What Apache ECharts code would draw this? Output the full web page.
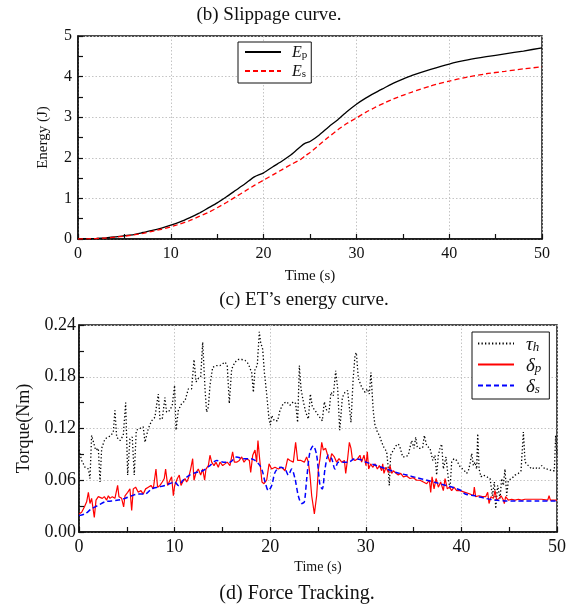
<!DOCTYPE html>
<html><head><meta charset="utf-8">
<script src="https://cdn.jsdelivr.net/npm/echarts@6/dist/echarts.min.js"></script>
<style>html,body{margin:0;padding:0;background:#fff}#c{width:574px;height:612px}</style>
</head><body><div id="c"></div>
<script>
// ---- (c) ET's energy curve ----
const energyTime = [0,1,2,3,4,5,6,7,8,9,10,11,12,13,14,15,16,17,18,19,20,21,22,23,24,24.5,25,26,27,28,29,30,31,32,33,34,35,36,38,40,42,44,46,48,50];
const energyEp = [0,0.005,0.015,0.03,0.05,0.08,0.11,0.16,0.21,0.27,0.34,0.42,0.52,0.63,0.76,0.89,1.04,1.2,1.36,1.53,1.63,1.78,1.92,2.08,2.28,2.36,2.40,2.56,2.76,2.94,3.14,3.32,3.47,3.6,3.72,3.84,3.94,4.03,4.18,4.31,4.41,4.49,4.56,4.63,4.71];
const energyEs = [0,0.004,0.012,0.025,0.045,0.07,0.1,0.14,0.19,0.24,0.3,0.37,0.45,0.55,0.65,0.77,0.9,1.04,1.18,1.32,1.45,1.58,1.71,1.84,1.96,2.05,2.13,2.32,2.51,2.69,2.85,2.98,3.12,3.24,3.35,3.45,3.54,3.62,3.77,3.89,3.99,4.07,4.13,4.19,4.24];
const energyYTicks = [0,1,2,3,4,5];

// ---- (d) Force tracking ----
const tauT = [0.00,0.28,0.63,0.98,1.15,1.32,1.50,1.74,2.02,2.20,2.37,2.72,3.07,3.34,3.59,3.76,3.94,4.29,4.63,4.88,5.09,5.33,5.57,5.78,5.99,6.38,6.72,6.90,7.25,7.60,7.94,8.29,8.47,8.71,8.99,9.16,9.51,9.75,10.00,10.15,10.39,10.74,11.09,11.44,11.78,12.03,12.24,12.48,12.73,12.94,13.18,13.35,13.53,13.70,13.98,14.40,14.75,15.27,15.51,15.72,15.97,16.32,16.67,17.02,17.37,17.71,18.06,18.24,18.41,18.65,18.86,19.00,19.21,19.39,19.50,19.63,19.87,20.02,20.16,20.43,20.78,21.02,21.37,21.72,22.07,22.42,22.66,22.87,23.05,23.22,23.47,23.71,23.99,24.20,24.41,24.69,25.04,25.45,25.66,25.91,26.15,26.36,26.60,26.85,27.06,27.27,27.55,27.82,28.10,28.45,28.66,28.87,29.01,29.22,29.57,29.92,30.16,30.37,30.54,30.68,30.79,30.96,31.21,31.42,31.66,31.90,32.18,32.36,32.46,32.60,32.88,33.16,33.40,33.58,33.86,34.10,34.45,34.62,34.80,35.04,35.22,35.39,35.67,35.95,36.12,36.37,36.72,37.00,37.24,37.41,37.59,37.76,37.94,38.11,38.39,38.63,38.81,38.98,39.22,39.50,39.85,40.03,40.31,40.55,40.73,40.90,41.08,41.25,41.42,41.60,41.71,41.85,42.05,42.30,42.65,43.00,43.24,43.45,43.59,43.79,44.04,44.21,44.39,44.56,44.74,44.91,45.26,45.61,45.96,46.24,46.48,46.66,47.00,47.35,47.70,48.05,48.40,48.75,49.10,49.44,49.72,49.86,50.00];
const tauV = [0.095,0.083,0.075,0.073,0.062,0.112,0.110,0.095,0.097,0.058,0.097,0.108,0.110,0.112,0.116,0.141,0.110,0.106,0.112,0.150,0.066,0.108,0.110,0.066,0.118,0.120,0.122,0.104,0.120,0.129,0.133,0.160,0.131,0.131,0.156,0.139,0.141,0.147,0.170,0.118,0.141,0.149,0.152,0.166,0.166,0.200,0.174,0.178,0.180,0.220,0.166,0.139,0.145,0.170,0.191,0.193,0.193,0.197,0.193,0.149,0.189,0.197,0.200,0.200,0.199,0.195,0.185,0.162,0.189,0.193,0.232,0.220,0.212,0.185,0.174,0.160,0.131,0.124,0.135,0.129,0.129,0.141,0.149,0.151,0.147,0.151,0.149,0.127,0.193,0.166,0.151,0.139,0.131,0.160,0.145,0.141,0.135,0.129,0.151,0.141,0.139,0.162,0.158,0.187,0.166,0.118,0.156,0.162,0.164,0.127,0.174,0.205,0.208,0.178,0.168,0.162,0.166,0.160,0.185,0.158,0.139,0.124,0.116,0.112,0.104,0.098,0.093,0.073,0.054,0.089,0.095,0.100,0.102,0.098,0.087,0.087,0.089,0.098,0.106,0.097,0.110,0.098,0.097,0.098,0.112,0.100,0.097,0.083,0.089,0.066,0.089,0.097,0.102,0.073,0.087,0.062,0.050,0.081,0.085,0.083,0.076,0.077,0.071,0.068,0.071,0.079,0.091,0.077,0.081,0.073,0.114,0.073,0.064,0.066,0.064,0.062,0.042,0.058,0.027,0.054,0.039,0.062,0.054,0.073,0.042,0.060,0.062,0.066,0.068,0.071,0.116,0.081,0.077,0.073,0.075,0.073,0.077,0.073,0.073,0.071,0.071,0.112,0.089];

const dpT = [0.00,0.28,0.56,0.80,0.98,1.15,1.32,1.60,1.78,2.02,2.20,2.44,2.65,2.89,3.07,3.24,3.48,3.76,4.04,4.18,4.46,4.67,4.81,5.09,5.33,5.51,5.68,5.92,6.20,6.48,6.72,6.97,7.25,7.53,7.77,8.05,8.22,8.47,8.71,8.92,9.06,9.27,9.51,9.69,9.87,10.01,10.15,10.29,10.49,10.67,10.84,11.09,11.26,11.44,11.68,11.89,12.03,12.24,12.48,12.73,12.94,13.14,13.28,13.53,13.70,13.88,14.12,14.33,14.57,14.75,15.03,15.27,15.51,15.79,16.07,16.25,16.49,16.77,17.02,17.26,17.54,17.82,17.96,18.17,18.41,18.58,18.72,18.86,19.00,19.14,19.35,19.63,19.88,20.15,20.50,20.85,21.20,21.55,21.83,22.07,22.42,22.66,22.87,23.22,23.57,23.81,23.99,24.16,24.34,24.62,24.86,25.04,25.21,25.39,25.56,25.80,26.01,26.25,26.43,26.71,26.95,27.20,27.48,27.76,27.90,28.10,28.28,28.45,28.59,28.87,29.15,29.39,29.56,29.81,30.02,30.16,30.30,30.51,30.72,30.96,31.21,31.42,31.66,31.77,31.90,32.11,32.36,32.53,32.71,32.88,33.16,33.40,33.65,33.93,34.27,34.62,34.97,35.32,35.67,36.02,36.37,36.65,36.79,36.93,37.14,37.35,37.59,37.83,38.11,38.29,38.53,38.74,38.98,39.22,39.50,39.85,40.03,40.38,40.90,41.25,41.35,41.49,41.85,42.19,42.54,42.75,42.89,43.10,43.34,43.52,43.69,43.94,44.15,44.39,44.49,44.63,44.91,45.26,45.61,45.96,46.30,46.66,47.00,47.70,48.40,49.03,49.17,49.31,49.79,50.00];
const dpV = [0.021,0.023,0.029,0.035,0.046,0.033,0.039,0.017,0.037,0.041,0.042,0.039,0.041,0.037,0.042,0.039,0.041,0.039,0.054,0.041,0.039,0.029,0.042,0.046,0.050,0.025,0.050,0.052,0.046,0.048,0.044,0.050,0.052,0.054,0.050,0.073,0.052,0.054,0.058,0.062,0.073,0.054,0.060,0.064,0.042,0.054,0.058,0.062,0.066,0.054,0.058,0.062,0.058,0.062,0.073,0.085,0.060,0.069,0.073,0.066,0.073,0.060,0.073,0.077,0.089,0.081,0.077,0.081,0.075,0.081,0.077,0.079,0.081,0.077,0.093,0.081,0.081,0.083,0.087,0.081,0.085,0.083,0.069,0.089,0.095,0.081,0.106,0.089,0.073,0.058,0.056,0.060,0.079,0.073,0.075,0.073,0.075,0.071,0.085,0.083,0.081,0.104,0.083,0.083,0.081,0.087,0.081,0.066,0.042,0.021,0.042,0.073,0.085,0.104,0.095,0.097,0.089,0.081,0.091,0.087,0.081,0.085,0.081,0.083,0.068,0.085,0.104,0.097,0.085,0.083,0.085,0.089,0.081,0.089,0.077,0.093,0.073,0.079,0.075,0.079,0.073,0.077,0.071,0.079,0.068,0.075,0.069,0.077,0.068,0.071,0.068,0.066,0.068,0.064,0.065,0.062,0.063,0.060,0.060,0.058,0.056,0.060,0.046,0.064,0.050,0.062,0.052,0.058,0.048,0.062,0.050,0.052,0.048,0.052,0.048,0.048,0.047,0.046,0.044,0.042,0.052,0.041,0.042,0.041,0.041,0.046,0.033,0.041,0.039,0.048,0.037,0.039,0.042,0.037,0.033,0.041,0.037,0.038,0.037,0.038,0.037,0.038,0.038,0.038,0.038,0.037,0.042,0.037,0.037,0.037];

const dsT = [0.00,0.63,1.32,2.02,2.72,3.41,4.11,4.81,5.51,6.20,6.90,7.60,8.29,8.99,9.69,10.00,10.39,10.88,11.57,12.24,12.94,13.70,14.40,15.10,15.79,16.49,17.19,17.89,18.41,18.93,19.20,19.46,19.81,20.16,20.50,21.02,21.55,21.90,22.24,22.59,22.94,23.29,23.57,23.82,24.16,24.51,24.86,25.21,25.45,25.73,26.08,26.43,26.78,27.13,27.65,28.17,28.87,29.40,30.00,31.10,32.20,33.20,34.30,35.30,36.40,37.40,38.40,39.30,40.00,40.40,41.40,42.50,43.50,44.60,45.60,46.70,48.00,50.00];
const dsV = [0.019,0.021,0.027,0.031,0.035,0.036,0.037,0.039,0.042,0.044,0.044,0.050,0.052,0.054,0.057,0.058,0.054,0.060,0.066,0.069,0.071,0.077,0.083,0.081,0.081,0.087,0.085,0.085,0.083,0.077,0.070,0.058,0.048,0.054,0.069,0.075,0.073,0.066,0.073,0.062,0.042,0.033,0.035,0.062,0.093,0.100,0.089,0.054,0.050,0.073,0.089,0.085,0.073,0.081,0.081,0.081,0.085,0.084,0.081,0.077,0.073,0.069,0.066,0.063,0.060,0.057,0.054,0.051,0.048,0.044,0.042,0.039,0.037,0.036,0.036,0.036,0.036,0.036];
const torqueYTicks = [0.00,0.06,0.12,0.18,0.24];
const timeTicks = [0,10,20,30,40,50];

const zip = (a, b) => a.map((t, i) => [t, b[i]]);
const FONT = "'Liberation Serif','Times New Roman',serif";

function valueAxis(extra) {
  return Object.assign({
    type: 'value',
    axisLine: { show: true, onZero: false, lineStyle: { color: '#111', width: 1.5 } },
    axisTick: { show: true, inside: true, length: 5, lineStyle: { color: '#111', width: 1.2 } },
    minorTick: { show: true, splitNumber: 2, length: 5, lineStyle: { color: '#111', width: 1.2 } },
    splitLine: { show: true, lineStyle: { color: '#c4c4c4', width: 1, type: [1.5, 2] } },
    nameTextStyle: { fontFamily: FONT, color: '#111' },
    axisLabel: { fontFamily: FONT, color: '#111' }
  }, extra);
}

function makeRich(big, small) {
  return {
    i: { fontFamily: FONT, fontStyle: 'italic', fontSize: big, color: '#111', lineHeight: big + 2, verticalAlign: 'bottom' },
    s: { fontFamily: FONT, fontSize: small, color: '#111', lineHeight: small, verticalAlign: 'bottom' },
    si: { fontFamily: FONT, fontStyle: 'italic', fontSize: small, color: '#111', lineHeight: small, verticalAlign: 'bottom' }
  };
}
const legendLabels = {
  'Ep': '{i|E}{s|p}', 'Es': '{i|E}{s|s}',
  'tau': '{i|\u03c4}{si|h}', 'dp': '{i|\u03b4}{si|p}', 'ds': '{i|\u03b4}{si|s}'
};

const chart = echarts.init(document.getElementById('c'), null, { renderer: 'canvas' });
chart.setOption({
  animation: false,
  backgroundColor: '#fff',
  title: [
    { text: '(b) Slippage curve.', left: 264, top: 1, textAlign: 'center', textStyle: { fontFamily: FONT, fontSize: 19, fontWeight: 'normal', color: '#111' } },
    { text: "(c) ET\u2019s energy curve.", left: 299, top: 286, textAlign: 'center', textStyle: { fontFamily: FONT, fontSize: 19, fontWeight: 'normal', color: '#111' } },
    { text: '(d) Force Tracking.', left: 292, top: 579, textAlign: 'center', textStyle: { fontFamily: FONT, fontSize: 20, fontWeight: 'normal', color: '#111' } }
  ],
  grid: [
    { left: 78, top: 36, width: 464, height: 203, show: true, borderColor: '#111', borderWidth: 1.5, backgroundColor: 'transparent' },
    { left: 79, top: 325, width: 478, height: 207, show: true, borderColor: '#111', borderWidth: 1.5, backgroundColor: 'transparent' }
  ],
  xAxis: [
    valueAxis({ gridIndex: 0, min: timeTicks[0], max: timeTicks[timeTicks.length - 1], interval: 10,
      name: 'Time (s)', nameLocation: 'middle', nameGap: 30, nameTextStyle: { fontFamily: FONT, fontSize: 15, color: '#111' },
      axisLabel: { fontFamily: FONT, fontSize: 16, color: '#111', margin: 7 } }),
    valueAxis({ gridIndex: 1, min: timeTicks[0], max: timeTicks[timeTicks.length - 1], interval: 10,
      name: 'Time (s)', nameLocation: 'middle', nameGap: 28, nameTextStyle: { fontFamily: FONT, fontSize: 14, color: '#111' },
      axisLabel: { fontFamily: FONT, fontSize: 18, color: '#111', margin: 6 } })
  ],
  yAxis: [
    valueAxis({ gridIndex: 0, min: energyYTicks[0], max: energyYTicks[energyYTicks.length - 1], interval: 1,
      name: 'Energy (J)', nameLocation: 'middle', nameGap: 27, nameTextStyle: { fontFamily: FONT, fontSize: 15, color: '#111' },
      axisLabel: { fontFamily: FONT, fontSize: 16, color: '#111', margin: 6 } }),
    valueAxis({ gridIndex: 1, min: torqueYTicks[0], max: torqueYTicks[torqueYTicks.length - 1], interval: 0.06,
      name: 'Torque(Nm)', nameLocation: 'middle', nameGap: 44, nameTextStyle: { fontFamily: FONT, fontSize: 18, color: '#111' },
      axisLabel: { fontFamily: FONT, fontSize: 18, color: '#111', margin: 3, formatter: v => v.toFixed(2) } })
  ],
  legend: [
    { data: ['Ep', 'Es'], orient: 'vertical', left: 238, top: 42, itemWidth: 36, itemHeight: 12, itemGap: 3,
      padding: [3, 4, 3, 6], borderColor: '#111', borderWidth: 1, backgroundColor: '#fff', selectedMode: false,
      itemStyle: { opacity: 0 },
      formatter: n => legendLabels[n], textStyle: { rich: makeRich(16, 11), padding: [0, 0, 0, 6] } },
    { data: ['tau', 'dp', 'ds'], orient: 'vertical', left: 472, top: 332, itemWidth: 36, itemHeight: 12, itemGap: 2,
      padding: [3, 8, 3, 5], borderColor: '#111', borderWidth: 1, backgroundColor: '#fff', selectedMode: false,
      itemStyle: { opacity: 0 },
      formatter: n => legendLabels[n], textStyle: { rich: makeRich(19, 13), padding: [0, 0, 0, 7] } }
  ],
  series: [
    { name: 'Ep', type: 'line', xAxisIndex: 0, yAxisIndex: 0, data: zip(energyTime, energyEp), showSymbol: false, symbol: 'none', smooth: 0.2,
      lineStyle: { color: '#000', width: 1.3 }, itemStyle: { color: '#000' } },
    { name: 'Es', type: 'line', xAxisIndex: 0, yAxisIndex: 0, data: zip(energyTime, energyEs), showSymbol: false, symbol: 'none', smooth: 0.2,
      lineStyle: { color: '#ff0000', width: 1.3, type: [5, 3] }, itemStyle: { color: '#ff0000' } },
    { name: 'tau', type: 'line', xAxisIndex: 1, yAxisIndex: 1, data: zip(tauT, tauV), showSymbol: false, symbol: 'none',
      lineStyle: { color: '#000', width: 1.3, type: [1.3, 2.2] }, itemStyle: { color: '#000' } },
    { name: 'dp', type: 'line', xAxisIndex: 1, yAxisIndex: 1, data: zip(dpT, dpV), showSymbol: false, symbol: 'none',
      lineStyle: { color: '#ff0000', width: 1.2 }, itemStyle: { color: '#ff0000' } },
    { name: 'ds', type: 'line', xAxisIndex: 1, yAxisIndex: 1, data: zip(dsT, dsV), showSymbol: false, symbol: 'none', smooth: 0.3,
      lineStyle: { color: '#0000ff', width: 1.5, type: [5, 3] }, itemStyle: { color: '#0000ff' } }
  ]
});
</script>
</body></html>
